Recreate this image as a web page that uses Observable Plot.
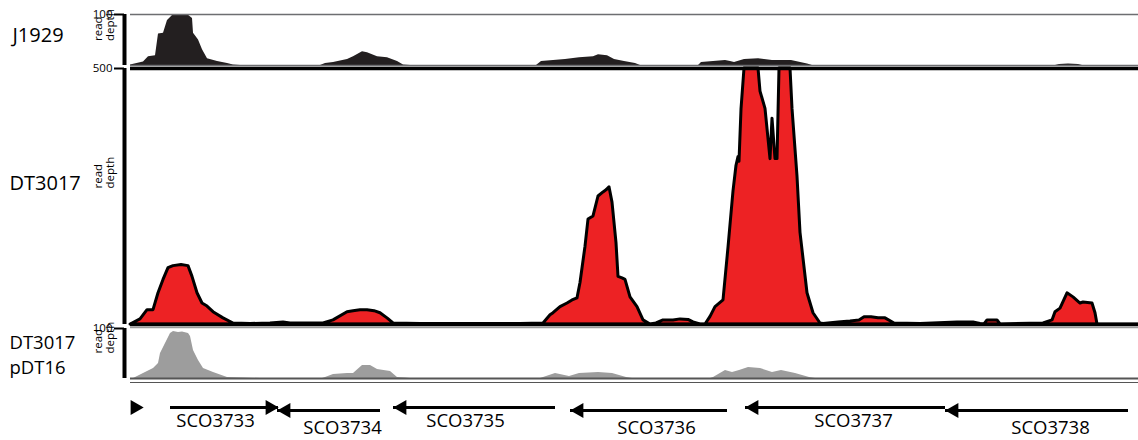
<!DOCTYPE html>
<html><head><meta charset="utf-8">
<script src="https://cdn.jsdelivr.net/npm/d3@7"></script>
<script src="https://cdn.jsdelivr.net/npm/@observablehq/plot@0.6"></script>
<style>
body{margin:0;background:#fff;}
#chart{position:relative;width:1138px;height:440px;overflow:hidden;font-family:"Open Sans",sans-serif;}
#chart svg{position:absolute;left:0;}
</style></head><body><div id="chart"></div>
<script>
// Genome position (arbitrary units along the locus)
const locus = [130, 1138];

// J1929 read depth (scale 0–100)
const j1929Pos   = [130,143,148,155,158,163,167,172,177,187,192,193,198,202,207,217,227,233,240,320,325,333,347,353,362,367,377,387,397,403,410,536,541,565,579,593,598,607,614,624,635,640,698,701,725,730,734,744,758,772,791,807,812,1055,1059,1068,1078,1082,1138];
const j1929Depth = [1,7,17,19,62,63,88,98,100,100,92,63,50,31,13,8,4,1,0,0,4,6,12,17,27,25,17,15,8,1,0,0,8,12,15,17,21,19,12,8,4,0,0,6,10,8,6,12,13,10,10,3,0,0,2,3,2,0,0];

// DT3017 read depth (scale 0–500, clipped at 500)
const dt3017Pos   = [130,132,140,147,153,158,163,168,173,181,188,192,197,202,207,213,223,233,250,270,283,290,323,333,347,353,360,367,374,380,387,393,420,460,520,543,550,553,560,567,572,577,580,585,588,593,598,603,606,609,612,616,618,622,625,630,637,643,650,656,663,673,680,688,693,700,705,710,715,723,728,733,736,738,739,741,744,758,760,765,770,772,775,777,779,790,792,797,800,807,813,820,823,838,850,859,864,871,878,885,894,920,957,973,980,984,987,997,1000,1043,1052,1055,1060,1067,1073,1080,1083,1092,1095,1097,1138];
const dt3017Depth = [0,2,10,28,28,61,87,110,114,116,114,93,61,41,35,24,12,2,1,2,4,2,2,8,24,26,28,28,26,22,12,2,1,1,1,2,18,22,34,41,47,51,81,152,205,211,250,258,262,268,238,159,93,90,87,53,34,8,0,2,8,8,10,9,4,0,0,15,34,47,150,260,310,327,318,420,500,500,455,421,323,402,323,323,500,500,421,289,179,61,22,2,1,4,6,8,14,14,12,12,2,1,4,4,1,0,8,8,0,2,8,24,31,61,53,41,43,41,22,0,0];

// DT3017 pDT16 read depth (scale 0–100)
const pdt16Pos   = [130,133,143,153,158,160,165,170,173,178,182,188,190,193,198,203,213,227,243,260,322,325,333,347,353,362,370,377,390,397,405,410,540,543,555,569,579,598,612,626,632,710,713,725,732,739,748,760,772,781,795,809,815,1138];
const pdt16Depth = [0,0,10,20,30,50,70,90,94,92,93,90,84,56,36,20,12,2,1,0,0,2,8,10,10,26,26,18,14,2,1,0,0,2,10,4,10,12,10,2,0,0,2,16,12,16,22,20,12,16,10,2,0,0];

// Genes
const geneNames   = ["", "SCO3733", "SCO3734", "SCO3735", "SCO3736", "SCO3737", "SCO3738"];
const geneTail    = [143, 170, 380, 555, 727, 945, 1128];
const geneTip     = [143, 278, 277, 393, 570, 745, 945];
const geneStrand  = ["+", "+", "-", "-", "-", "-", "-"];
const geneRow     = [1, 1, 2, 1, 2, 1, 2];
const geneLabelAt = [null, 215, 342, 465, 656, 853, 1050];

const toRows = (p, v) => p.map((x, i) => ({pos: x, depth: v[i]}));
const j1929 = toRows(j1929Pos, j1929Depth);
const dt3017 = toRows(dt3017Pos, dt3017Depth);
const pdt16 = toRows(pdt16Pos, pdt16Depth);
const genes = geneNames.map((n, i) => ({name: n, tail: geneTail[i], tip: geneTip[i], strand: geneStrand[i], row: geneRow[i], label: geneLabelAt[i]}));

const FONT = "Open Sans";
const common = {
  width: 1138, marginLeft: 130, marginRight: 0,
  x: {domain: locus, axis: null},
  style: {background: "transparent", overflow: "visible", fontFamily: FONT}
};
const axisBar = () => Plot.ruleX([locus[0]], {dx: -6, strokeWidth: 4, stroke: "black"});
const readDepth = (dy) => Plot.text(["read\ndepth"], {frameAnchor: "left", dx: -26, dy, rotate: -90, fontSize: 11.5, lineHeight: 1.05, fill: "black"});
const yTick = (v) => Plot.axisY([v], {tickSize: 10, dx: -6, tickPadding: 2, fontSize: 11.5, label: null, strokeWidth: 2, fill: "black", stroke: "black"});

const chart = document.getElementById("chart");
function place(svg, top) {
  svg.style.top = top + "px";
  chart.appendChild(svg);
}

// Top panel: J1929
place(Plot.plot({
  ...common, height: 68, marginTop: 14, marginBottom: 3,
  y: {domain: [0, 100]},
  marks: [
    Plot.areaY(j1929, {x: "pos", y: "depth", fill: "#231f20"}),
    Plot.ruleY([100], {stroke: "#6d6e71", strokeWidth: 1.5}),
    Plot.ruleY([0], {stroke: "#6d6e71", strokeWidth: 1.5}),
    axisBar(), yTick(100), readDepth(1),
    Plot.text(["J1929"], {frameAnchor: "left", dx: -118, dy: -4, textAnchor: "start", fontSize: 20, fill: "black"})
  ]
}), 0);

// Middle panel: DT3017
place(Plot.plot({
  ...common, height: 272, marginTop: 8, marginBottom: 8,
  y: {domain: [0, 500], clamp: true},
  marks: [
    Plot.areaY(dt3017, {x: "pos", y: "depth", fill: "#ed2224", stroke: "black", strokeWidth: 3, strokeLinejoin: "round"}),
    Plot.ruleY([500], {stroke: "black", strokeWidth: 3.5}),
    Plot.ruleY([0], {stroke: "#9a9a9a", strokeWidth: 1.5, dy: 3}),
    Plot.ruleY([0], {stroke: "black", strokeWidth: 3.5}),
    axisBar(), yTick(500), readDepth(-8),
    Plot.text(["DT3017"], {frameAnchor: "left", dx: -121, dy: -13, textAnchor: "start", fontSize: 20, fill: "black"})
  ]
}), 60);

// Bottom panel: DT3017 pDT16
place(Plot.plot({
  ...common, height: 70, marginTop: 10, marginBottom: 10,
  y: {domain: [0, 100]},
  marks: [
    Plot.areaY(pdt16, {x: "pos", y: "depth", fill: "#9d9d9d"}),
    Plot.ruleY([0], {stroke: "#555", strokeWidth: 2}),
    Plot.ruleY([0], {stroke: "#555", strokeWidth: 1.2, dy: 4}),
    axisBar(), yTick(100), readDepth(0),
    Plot.text(["DT3017"], {frameAnchor: "left", dx: -121, dy: -10, textAnchor: "start", fontSize: 18.5, fill: "black"}),
    Plot.text(["pDT16"], {frameAnchor: "left", dx: -121, dy: 15, textAnchor: "start", fontSize: 18.5, fill: "black"})
  ]
}), 318);

// Gene track
place(Plot.plot({
  ...common, height: 52, marginTop: 0, marginBottom: 0,
  y: {type: "point", domain: [1, 2], range: [17, 24], axis: null},
  marks: [
    Plot.ruleY(genes, {x1: "tail", x2: "tip", y: "row", stroke: "black", strokeWidth: 3}),
    Plot.dot(genes.filter(d => d.strand === "+"), {x: "tip", y: "row", symbol: "triangle", r: 5.6, rotate: 90, dx: -8.5, fill: "black", stroke: "none"}),
    Plot.dot(genes.filter(d => d.strand === "-"), {x: "tip", y: "row", symbol: "triangle", r: 5.6, rotate: -90, dx: 8.5, fill: "black", stroke: "none"}),
    Plot.text(genes.filter(d => d.name && d.row === 1), {x: "label", y: "row", text: "name", dy: 14, fontSize: 18.5, fill: "black"}),
    Plot.text(genes.filter(d => d.name && d.row === 2), {x: "label", y: "row", text: "name", dy: 18, fontSize: 18.5, fill: "black"})
  ]
}), 388);
</script></body></html>
